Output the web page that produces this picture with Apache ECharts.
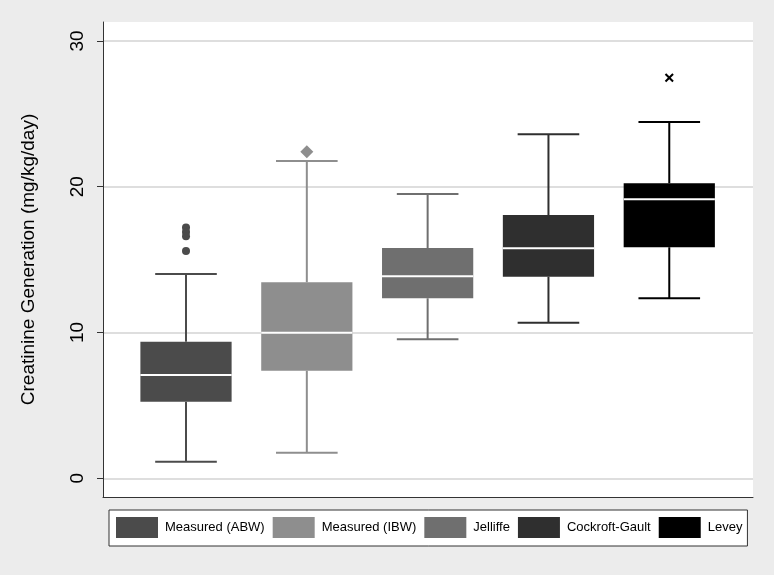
<!DOCTYPE html>
<html>
<head>
<meta charset="utf-8">
<script src="https://cdn.jsdelivr.net/npm/echarts@6/dist/echarts.min.js"></script>
<style>html,body{margin:0;padding:0;background:#ececec;}#c{width:774px;height:575px;}</style>
</head>
<body>
<div id="c"></div>
<script>
const categories = ['Measured (ABW)', 'Measured (IBW)', 'Jelliffe', 'Cockroft-Gault', 'Levey'];
const lowWhisker = [1.14, 1.76, 9.54, 10.67, 12.35];
const q1 = [5.25, 7.38, 12.35, 13.83, 15.85];
const median = [7.09, 9.99, 13.86, 15.78, 19.14];
const q3 = [9.37, 13.45, 15.80, 18.06, 20.24];
const highWhisker = [14.01, 21.77, 19.50, 23.60, 24.44];
const outliersABW = [17.2, 16.9, 16.6, 15.6];
const outliersIBW = [22.4];
const outliersLevey = [27.48];
const yTicks = [0, 10, 20, 30];
const colors = ['#4b4b4b', '#8e8e8e', '#6f6f6f', '#2f2f2f', '#000000'];

const BOX_W = 0.755, CAP_W = 0.51;

function renderItem(params, api) {
  const x = api.value(0);
  const lo = api.coord([x, api.value(1)]);
  const a = api.coord([x, api.value(2)]);
  const m = api.coord([x, api.value(3)]);
  const b = api.coord([x, api.value(4)]);
  const hi = api.coord([x, api.value(5)]);
  const bw = api.size([BOX_W, 0])[0];
  const cw = api.size([CAP_W, 0])[0];
  const color = api.visual('color');
  const ls = {stroke: color, lineWidth: 2};
  return {type: 'group', children: [
    {type: 'line', shape: {x1: lo[0], y1: lo[1], x2: a[0], y2: a[1]}, style: ls},
    {type: 'line', shape: {x1: b[0], y1: b[1], x2: hi[0], y2: hi[1]}, style: ls},
    {type: 'line', shape: {x1: lo[0] - cw / 2, y1: lo[1], x2: lo[0] + cw / 2, y2: lo[1]}, style: ls},
    {type: 'line', shape: {x1: hi[0] - cw / 2, y1: hi[1], x2: hi[0] + cw / 2, y2: hi[1]}, style: ls},
    {type: 'rect', shape: {x: a[0] - bw / 2, y: b[1], width: bw, height: a[1] - b[1]}, style: {fill: color}},
    {type: 'line', shape: {x1: m[0] - bw / 2, y1: m[1], x2: m[0] + bw / 2, y2: m[1]}, style: {stroke: '#ffffff', lineWidth: 2}}
  ]};
}

const series = categories.map((name, i) => ({
  name: name,
  type: 'custom',
  renderItem: renderItem,
  itemStyle: {color: colors[i]},
  encode: {x: 0, y: [1, 2, 3, 4, 5]},
  data: [[i, lowWhisker[i], q1[i], median[i], q3[i], highWhisker[i]]],
  z: 3,
  silent: true
}));

series.push({
  type: 'scatter', name: 'outABW', symbol: 'circle', symbolSize: 8,
  itemStyle: {color: colors[0], opacity: 1},
  data: outliersABW.map(v => [0, v]), z: 4, silent: true
});
series.push({
  type: 'scatter', name: 'outIBW', symbol: 'diamond', symbolSize: 13,
  itemStyle: {color: colors[1], opacity: 1},
  data: outliersIBW.map(v => [1, v]), z: 4, silent: true
});
series.push({
  type: 'scatter', name: 'outLevey',
  symbol: 'path://M0,1.6L1.6,0L5,3.4L8.4,0L10,1.6L6.6,5L10,8.4L8.4,10L5,6.6L1.6,10L0,8.4L3.4,5Z',
  symbolSize: 9,
  itemStyle: {color: colors[4], opacity: 1},
  data: outliersLevey.map(v => [4, v]), z: 4, silent: true
});

const chart = echarts.init(document.getElementById('c'), null, {renderer: 'canvas'});
chart.setOption({
  backgroundColor: '#ececec',
  animation: false,
  grid: {left: 103, right: 21, top: 22, bottom: 78, show: true, backgroundColor: '#ffffff', borderWidth: 0},
  xAxis: {
    type: 'value', min: -0.687, max: 4.693,
    axisLine: {show: true, onZero: false, lineStyle: {color: '#333333', width: 1}},
    axisTick: {show: false}, axisLabel: {show: false}, splitLine: {show: false}
  },
  yAxis: {
    type: 'value', min: -1.28, max: 31.3,
    name: 'Creatinine Generation (mg/kg/day)',
    nameLocation: 'middle', nameRotate: 90, nameGap: 65,
    nameTextStyle: {fontFamily: 'Liberation Sans', fontSize: 19, color: '#000000'},
    axisLine: {show: true, onZero: false, lineStyle: {color: '#333333', width: 1}},
    axisTick: {show: true, length: 6, customValues: yTicks, lineStyle: {color: '#333333'}},
    axisLabel: {show: true, customValues: yTicks, rotate: 90, margin: 16, fontFamily: 'Liberation Sans', fontSize: 19, color: '#000000'},
    splitLine: {show: true, lineStyle: {color: '#dedede', width: 2}}
  },
  legend: {
    data: categories,
    left: 109, top: 510, width: 640,
    orient: 'horizontal',
    icon: 'rect',
    itemWidth: 42, itemHeight: 21, itemGap: 8,
    padding: [7, 5, 8, 7],
    borderColor: '#333333', borderWidth: 1,
    backgroundColor: '#ffffff',
    selectedMode: false,
    textStyle: {fontFamily: 'Liberation Sans', fontSize: 13, color: '#000000', padding: [0, 0, 0, 2]}
  },
  series: series
});
</script>
</body>
</html>
